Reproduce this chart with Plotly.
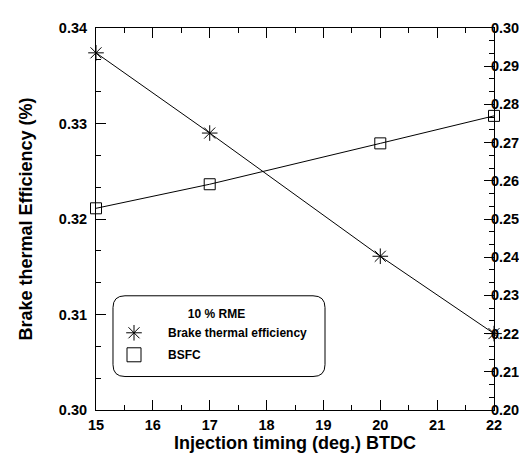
import plotly.graph_objects as go

timing = [15, 17, 20, 22]
bte = [0.3374, 0.3290, 0.3161, 0.3080]
bsfc = [0.2528, 0.2591, 0.2698, 0.2770]

x_ticks = [15, 16, 17, 18, 19, 20, 21, 22]
y1_ticks = [0.30, 0.31, 0.32, 0.33, 0.34]
y2_ticks = [0.20, 0.21, 0.22, 0.23, 0.24, 0.25, 0.26, 0.27, 0.28, 0.29, 0.30]

FONT = "Liberation Sans, Arial, sans-serif"
W, H = 527, 459
ML, MR, MT, MB = 88, 41, 14, 57
PW, PH = W - ML - MR, H - MT - MB

fig = go.Figure()
fig.add_trace(go.Scatter(
    x=timing, y=bte, mode="lines+markers", name="Brake thermal efficiency",
    line=dict(color="black", width=1),
    marker=dict(symbol="asterisk-open", size=13, color="black", line=dict(width=1, color="black")),
    cliponaxis=False, showlegend=False))
fig.add_trace(go.Scatter(
    x=timing, y=bsfc, mode="lines+markers", name="BSFC", yaxis="y2",
    line=dict(color="black", width=1),
    marker=dict(symbol="square-open", size=11, color="black", line=dict(width=1, color="black")),
    cliponaxis=False, showlegend=False))
# legend entries (markers only)
fig.add_trace(go.Scatter(
    x=[None], y=[None], mode="markers", name="Brake thermal efficiency", legendgroup="a",
    marker=dict(symbol="asterisk-open", size=13, color="black", line=dict(width=1, color="black"))))
fig.add_trace(go.Scatter(
    x=[None], y=[None], mode="markers", name="BSFC", legendgroup="b",
    marker=dict(symbol="square-open", size=14, color="black", line=dict(width=1, color="black"))))

# rounded legend frame
def px_to_paper(px, py):
    return (px - ML) / PW, (H - MB - py) / PH

x0, y0, x1, y1, r = 105, 286, 317, 368, 12
def P(px, py):
    a, b = px_to_paper(px, py)
    return f"{a:.5f},{b:.5f}"
path = (f"M {P(x0+r, y0)} L {P(x1-r, y0)} Q {P(x1, y0)} {P(x1, y0+r)} "
        f"L {P(x1, y1-r)} Q {P(x1, y1)} {P(x1-r, y1)} L {P(x0+r, y1)} "
        f"Q {P(x0, y1)} {P(x0, y1-r)} L {P(x0, y0+r)} Q {P(x0, y0)} {P(x0+r, y0)} Z")
fig.add_shape(type="path", path=path, xref="paper", yref="paper",
              line=dict(color="black", width=1), fillcolor="rgba(0,0,0,0)")

tickfont = dict(family=FONT, size=14.5, color="black", weight="bold")
common = dict(showline=True, linecolor="black", linewidth=1, ticks="inside",
              ticklen=10, tickwidth=1, tickcolor="black", showgrid=False,
              zeroline=False, tickfont=tickfont)

fig.update_layout(
    width=W, height=H,
    margin=dict(l=ML, r=MR, t=MT, b=MB),
    paper_bgcolor="white", plot_bgcolor="white",
    xaxis=dict(range=[15, 22], tickvals=x_ticks, mirror="ticks", ticklabelstandoff=2,
               minor=dict(dtick=0.5, ticklen=5, tickcolor="black", ticks="inside"),
               title=dict(text="Injection timing (deg.) BTDC", standoff=0,
                          font=dict(family=FONT, size=18, color="black", weight="bold")),
               **common),
    yaxis=dict(range=[0.30, 0.34], tickvals=y1_ticks, tickformat=".2f", ticklabelstandoff=5,
               minor=dict(dtick=0.01/3, ticklen=5, tickcolor="black", ticks="inside", tick0=0.30),
               title=dict(text="Brake thermal Efficiency (%)", standoff=21,
                          font=dict(family=FONT, size=18, color="black", weight="bold")),
               **common),
    yaxis2=dict(range=[0.20, 0.30], tickvals=y2_ticks, tickformat=".2f",
                overlaying="y", side="right", ticklabelstandoff=-7,
                minor=dict(dtick=0.01/3, ticklen=5, tickcolor="black", ticks="inside", tick0=0.20),
                **common),
    legend=dict(x=(92 - ML) / PW, y=(H - MB - 293) / PH, xanchor="left", yanchor="top",
                bgcolor="rgba(0,0,0,0)", borderwidth=0, tracegroupgap=3,
                title=dict(text="&nbsp;&nbsp;&nbsp;&nbsp;&nbsp;&nbsp;10 % RME", side="top center",
                           font=dict(family=FONT, size=12, color="black", weight="bold")),
                font=dict(family=FONT, size=12, color="black", weight="bold"),
                itemwidth=58),
)

fig.write_html("out.html")
